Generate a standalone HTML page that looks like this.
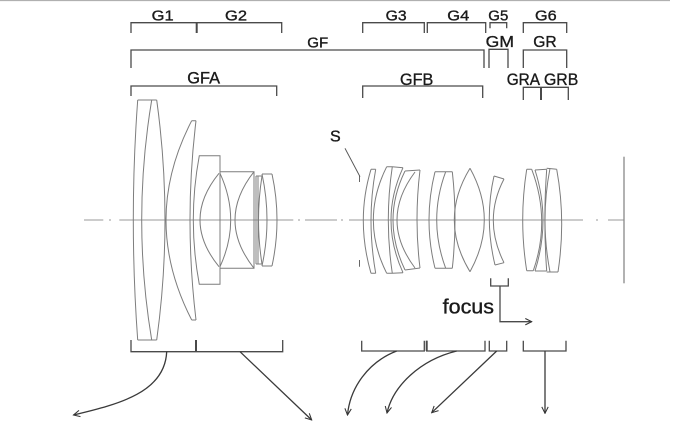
<!DOCTYPE html>
<html><head><meta charset="utf-8"><style>
html,body{margin:0;padding:0;background:#fff;}
svg{display:block;}
text{font-family:"Liberation Sans",sans-serif;fill:#1a1a1a;stroke:#1a1a1a;stroke-width:0.35;}
</style></head><body>
<svg width="680" height="425" viewBox="0 0 680 425" xmlns="http://www.w3.org/2000/svg">
<defs>
<marker id="ah" viewBox="0 0 10 10" refX="9" refY="5" markerWidth="8" markerHeight="8" markerUnits="userSpaceOnUse" orient="auto">
<path d="M1,1 L9,5 L1,9" fill="none" stroke="#333" stroke-width="1.3"/>
</marker>
</defs>
<rect width="680" height="425" fill="#fff"/>
<line x1="0" y1="0.5" x2="670" y2="0.5" stroke="#b0b0b0" stroke-width="1.2"/>

<!-- top labels -->
<g font-size="15">
<text x="151.7" y="20.5" textLength="22" lengthAdjust="spacingAndGlyphs">G1</text>
<text x="225" y="20.5" textLength="22" lengthAdjust="spacingAndGlyphs">G2</text>
<text x="385.7" y="20.5" textLength="21" lengthAdjust="spacingAndGlyphs">G3</text>
<text x="447.3" y="20.5" textLength="22" lengthAdjust="spacingAndGlyphs">G4</text>
<text x="488.3" y="20.5" textLength="20" lengthAdjust="spacingAndGlyphs">G5</text>
<text x="535" y="20.5" textLength="21.7" lengthAdjust="spacingAndGlyphs">G6</text>
<text x="307.3" y="47.7" textLength="21" lengthAdjust="spacingAndGlyphs">GF</text>
</g>
<g font-size="16">
<text x="485.7" y="47" textLength="28.3" lengthAdjust="spacingAndGlyphs">GM</text>
<text x="533.3" y="47" textLength="23.4" lengthAdjust="spacingAndGlyphs">GR</text>
</g>
<g font-size="17">
<text x="187.3" y="83.3" textLength="32.7" lengthAdjust="spacingAndGlyphs">GFA</text>
<text x="400" y="85" textLength="33.3" lengthAdjust="spacingAndGlyphs">GFB</text>
<text x="506.7" y="85" textLength="33.3" lengthAdjust="spacingAndGlyphs">GRA</text>
<text x="544" y="85" textLength="34.3" lengthAdjust="spacingAndGlyphs">GRB</text>
</g>
<text x="330" y="141.7" font-size="16" textLength="10.7" lengthAdjust="spacingAndGlyphs">S</text>
<text x="442.7" y="313.5" font-size="20" textLength="51.3" lengthAdjust="spacingAndGlyphs">focus</text>

<!-- top brackets -->
<g fill="none" stroke="#4a4a4a" stroke-width="1.3">
<path d="M131,33 L131,22.7 L281.7,22.7 L281.7,33"/>
<path d="M196.7,22.7 L196.7,33" stroke-width="2"/>
<path d="M131,68 L131,50 L484,50 L484,68"/>
<path d="M489,68 L489,49.3 L508,49.3 L508,68"/>
<path d="M131,96 L131,86 L276.7,86 L276.7,96"/>
<path d="M362.7,33 L362.7,22.7 L424.3,22.7 L424.3,33"/>
<path d="M427.3,33 L427.3,22.7 L485.7,22.7 L485.7,33"/>
<path d="M490,28.3 L490,22.7 L506.7,22.7 L506.7,28.3"/>
<path d="M523.3,33 L523.3,22.7 L566.7,22.7 L566.7,33"/>
<path d="M523.3,68 L523.3,50 L566.7,50 L566.7,68"/>
<path d="M362.7,98 L362.7,86 L482.7,86 L482.7,98"/>
<path d="M523.3,100 L523.3,87.3 L568.3,87.3 L568.3,100"/>
<path d="M541,87.3 L541,100" stroke-width="2"/>
</g>

<!-- optical axis -->
<g stroke="#999" stroke-width="1" fill="none">
<path d="M84,220 L103.3,220 M109,220 L111,220 M119.3,220 L293.3,220 M298,220 L300,220 M305,220 L337,220 M341,220 L343,220 M349,220 L583,220 M596,220 L598,220 M608,220 L624,220"/>
</g>

<!-- lenses -->
<g fill="none" stroke="#7d7d7d" stroke-width="1">
<path d="M137.7,100 Q128.9,220 137.7,340"/>
<path d="M151.7,100 Q131.7,220 151.7,340"/>
<path d="M156.7,100 Q173.3,220 156.7,340"/>
<path d="M137.7,100 L156.7,100 M137.7,340 L156.7,340"/>
<path d="M191.7,120.7 Q140.3,220 191.7,320"/>
<path d="M196,120.7 Q184,220 196,320"/>
<path d="M191.7,120.7 L196,120.7 M191.7,320 L196,320"/>
<path d="M220,171.7 L220,155.7 L199.3,155.7 Q187.3,220 199.3,284.3 L220,284.3 L220,268.3"/>
<path d="M220,171.7 L254,171.7 L254,268.3 L220,268.3 Z"/>
<path d="M219,173.3 Q181,220 219,266.7"/>
<path d="M220,173.3 Q241.4,220 220,266.7"/>
<path d="M254,171.7 Q216,220 254,268.3"/>
<path d="M256,176 L256,264 M258,176 L258,264 M256,176 L262,176 M256,264 L262,264"/>
<path d="M262,176 Q255,220 262,264"/>
<path d="M262,174 L272,174 M262,266 L272,266"/>
<path d="M262,174 Q272,220 262,266"/>
<path d="M272,174 Q282,220 272,266"/>
<path d="M359.5,175.5 L359.5,182 M359.5,260 L359.5,266.7" stroke="#666"/>
<path d="M345,148.3 L360,176.7" stroke="#555"/>
<path d="M371,169.3 L375.7,169.3 M371,273.3 L375.7,273.3"/>
<path d="M371,169.3 Q355.6,220 371,273.3"/>
<path d="M375.7,169.3 Q366.3,220 375.7,273.3"/>
<path d="M386.7,166.7 L392.3,166.7 L403,167.7 M386.7,273.3 L392.3,273.3 L403,272.7"/>
<path d="M386.7,166.7 Q360,220 386.7,273.3"/>
<path d="M392.3,166.7 Q384.3,220 392.3,273.3"/>
<path d="M403,167.7 Q379,220 403,272.7"/>
<path d="M405,171 L420,170 M405,270 L420,268"/>
<path d="M405,171 Q381,220 405,270"/>
<path d="M415,172 Q379,220 415,268"/>
<path d="M420,170 Q414,220 420,268"/>
<path d="M435,171.7 L452.3,171.7 M435,268.3 L452.3,268.3"/>
<path d="M435,171.7 Q423,220 435,268.3"/>
<path d="M445.7,171.7 Q427.7,220 445.7,268.3"/>
<path d="M452.3,171.7 Q457.7,220 452.3,268.3"/>
<path d="M470,168.3 Q438.6,220 470,271.7"/>
<path d="M470,168.3 Q498.6,220 470,271.7"/>
<path d="M494,176 L504,179 M495,265 L504,262.7"/>
<path d="M494,176 Q484.1,220 495,265"/>
<path d="M504,179 Q482.6,220 504,262.7"/>
<path d="M526.7,169.3 L531.7,169.3 M526.7,270.7 L533.3,270.7"/>
<path d="M526.7,169.3 Q518.7,220 526.7,270.7"/>
<path d="M531.7,169.3 Q550.9,220 533.3,270.7"/>
<path d="M535,170 L546.7,169.3 M535,271 L546.7,271"/>
<path d="M535,170 Q551,220 535,271"/>
<path d="M546.7,169.3 Q543,220 546.7,271"/>
<path d="M546.7,168.3 L556.7,169.3 M546.7,272 L558,272"/>
<path d="M550,168.3 Q540,220 550,272"/>
<path d="M556.7,169.3 Q566,220 558,272"/>
</g>
<line x1="624" y1="156.7" x2="624" y2="283.3" stroke="#888" stroke-width="1.3"/>

<g fill="none" stroke="#4a4a4a" stroke-width="1.3">
<path d="M490.7,278.3 L490.7,286 L508.3,286 L508.3,278.3"/>
<path d="M500,286 L500,321.7 L531.7,321.7" marker-end="url(#ah)"/>
</g>

<g fill="none" stroke="#4a4a4a" stroke-width="1.3">
<path d="M131,340 L131,351.7 L282.7,351.7 L282.7,340"/>
<path d="M196,340 L196,351.7" stroke-width="2"/>
<path d="M361.7,340.7 L361.7,351 L424.3,351 L424.3,340.7"/>
<path d="M426.7,340.7 L426.7,351 L485,351 L485,340.7"/>
<path d="M426.7,340.7 L426.7,351" stroke-width="2"/>
<path d="M489.3,340.7 L489.3,351 L506.7,351 L506.7,340.7"/>
<path d="M523.3,340.7 L523.3,351 L566,351 L566,340.7"/>
</g>

<g fill="none" stroke="#3a3a3a" stroke-width="1.3">
<path d="M166.7,351.7 C165,392 120,404 73.5,415" marker-end="url(#ah)"/>
<path d="M240,351.7 L311.7,420" marker-end="url(#ah)"/>
<path d="M396.7,351 C368,362 350,388 347.5,415" marker-end="url(#ah)"/>
<path d="M456.7,351 C420,360 393,386 387,413" marker-end="url(#ah)"/>
<path d="M496.7,351 L431.7,412.7" marker-end="url(#ah)"/>
<path d="M545,351 L545,413.3" marker-end="url(#ah)"/>
</g>
</svg>
</body></html>
